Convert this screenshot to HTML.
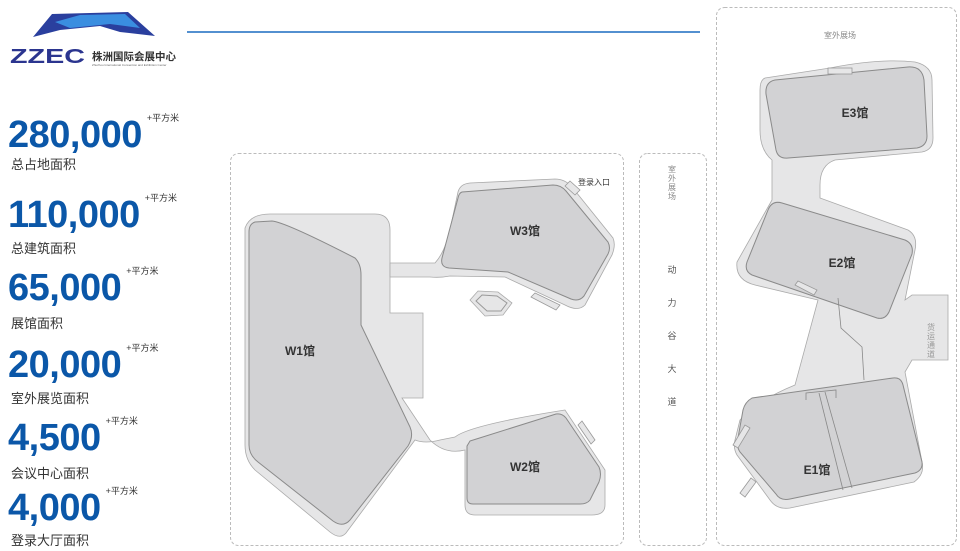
<!DOCTYPE html>
<html><head><meta charset="utf-8"><style>
body{margin:0;width:960px;height:551px;background:#fff;overflow:hidden;position:relative;font-family:"Liberation Sans","Noto Sans CJK SC",sans-serif}
.n{position:absolute;left:8px;color:#0b57a8;font-weight:bold;font-size:38px;letter-spacing:-0.5px;line-height:1}
.n sup{font-size:9px;color:#333;font-weight:normal;letter-spacing:0;vertical-align:top;position:relative;top:-2px;margin-left:5px}
.l{position:absolute;left:11px;font-size:13px;color:#333}
</style></head><body>
<svg width="960" height="551" style="position:absolute;left:0;top:0" font-family="Liberation Sans, Noto Sans CJK SC, sans-serif">
<polygon points="33,37 52,14 128,12 155,36 120,32 100,26 60,30" fill="#2a3f9e"/>
<polygon points="55,22 80,15 125,14 140,28 110,24 70,28" fill="#3a8ee0"/>
<text x="10" y="63" font-size="20" font-weight="bold" fill="#2b358f" textLength="75" lengthAdjust="spacingAndGlyphs">ZZEC</text>
<text x="92" y="60" font-size="10.5" font-weight="bold" fill="#333">株洲国际会展中心</text>
<text x="92" y="66" font-size="3" fill="#666">Zhuzhou International Convention and Exhibition Center</text>
<line x1="187" y1="32" x2="700" y2="32" stroke="#1a6cc0" stroke-width="1.5"/>
<g fill="none" stroke="#bbb" stroke-dasharray="3,2">
<rect x="230.5" y="153.5" width="393" height="392" rx="8"/>
<rect x="639.5" y="153.5" width="67" height="392" rx="8"/>
<rect x="716.5" y="7.5" width="240" height="538" rx="8"/>
</g>
<g fill="#e6e6e7" stroke="#aaa" stroke-width="0.8">
<path d="M270,214 L375,214 Q390,214 390,230 L390,313 L423,313 L423,398 L402,398 L430,440 Q445,455 465,450 L465,505 Q465,515 475,515 L592,515 Q605,515 605,505 L605,470 L565,410 Q470,425 455,437 L440,440 Q425,444 415,440 L346,533 Q340,540 330,532 L255,470 Q245,460 245,445 L245,228 Q250,214 270,214 Z"/>
<path d="M390,263 L435,263 Q445,252 450,230 L458,192 Q460,184 470,183 L555,179 Q565,179 572,187 L613,238 Q616,245 612,255 L585,305 Q578,312 565,305 L505,277 L450,276 Q440,278 430,277 L390,277 Z"/>
<polygon points="470,300 478,291 498,292 512,303 503,315 485,316" />
</g>
<g fill="#d2d2d4" stroke="#8a8a8a" stroke-width="1">
<path d="M255,222 L272,221 Q285,222 355,258 Q361,264 361,275 L361,325 L410,427 Q414,436 408,446 L350,520 Q343,528 333,521 L258,462 Q249,455 249,445 L249,232 Q249,224 255,222 Z"/>
<path d="M462,192 L553,185 Q561,185 566,191 L608,242 Q611,248 608,254 L584,296 Q579,302 571,299 L508,272 L449,268 Q440,267 442,258 L458,198 Q459,193 462,192 Z"/>
<path d="M470,441 L556,414 Q562,413 566,418 L599,467 Q602,474 599,482 L590,500 Q587,504 580,504 L473,504 Q467,504 467,498 L467,446 Z"/>
<polygon points="476,301 482,295 497,296 507,303 501,311 487,311" fill="#e6e6e7" stroke="#999"/>
</g>
<g fill="#e6e6e7" stroke="#999" stroke-width="0.8">
<polygon points="565,186 570,181 580,190 575,195"/>
<polygon points="531,297 535,293 560,305 556,310"/>
<polygon points="578,425 582,421 595,440 591,444"/>
</g>
<g fill="#e6e6e7" stroke="#aaa" stroke-width="0.8">
<path d="M765,78 L830,68 Q880,58 915,62 Q932,66 932,80 L933,138 Q933,150 922,152 L835,160 Q820,165 820,185 L820,198 L908,230 Q918,236 915,250 L905,300 L912,295 L948,295 L948,360 L912,360 L905,372 L922,462 Q925,474 914,482 L790,508 Q777,510 770,500 L737,455 Q733,448 735,440 L740,420 Q758,400 795,385 L818,300 L755,285 Q735,280 737,262 L772,200 L772,160 Q760,150 760,130 L760,90 Q760,80 765,78 Z"/>
</g>
<g fill="#d2d2d4" stroke="#8a8a8a" stroke-width="1">
<path d="M775,80 L908,67 Q922,66 924,80 L927,136 Q927,146 917,148 L788,158 Q778,159 776,150 L766,94 Q765,82 775,80 Z"/>
<path d="M782,203 L905,240 Q914,244 912,254 L889,312 Q885,320 877,318 L752,275 Q744,271 747,262 L768,210 Q772,200 782,203 Z"/>
<path d="M752,398 L893,378 Q901,377 903,385 L922,462 Q923,470 915,473 L790,499 Q780,501 776,494 L740,452 Q736,446 738,438 L743,410 Q745,402 752,398 Z"/>
</g>
<g fill="none" stroke="#888" stroke-width="0.8">
<polyline points="838,298 841,328 862,347 864,380"/>
<line x1="819" y1="393" x2="843" y2="490"/><line x1="825" y1="392" x2="852" y2="488"/>
<polyline points="806,400 806,393 836,390 836,398"/>
</g>
<g fill="#e6e6e7" stroke="#999" stroke-width="0.8">
<rect x="828" y="68" width="24" height="6"/>
<polygon points="795,285 798,281 817,290 814,295"/>
<polygon points="733,445 745,425 750,428 738,448"/>
<polygon points="740,493 751,478 756,482 745,497"/>
</g>
<g font-size="12" font-weight="bold" fill="#333" text-anchor="middle">
<text x="300" y="355">W1馆</text><text x="525" y="235">W3馆</text><text x="525" y="471">W2馆</text>
<text x="855" y="117">E3馆</text><text x="842" y="267">E2馆</text><text x="817" y="474">E1馆</text>
</g>
<text x="578" y="185" font-size="8" fill="#333">登录入口</text>
<text x="840" y="38" font-size="8" fill="#888" text-anchor="middle">室外展场</text>
<g font-size="8" fill="#888" text-anchor="middle"><text x="672" y="172">室</text><text x="672" y="181">外</text><text x="672" y="190">展</text><text x="672" y="199">场</text></g>
<g font-size="9" fill="#555" text-anchor="middle"><text x="672" y="273">动</text><text x="672" y="306">力</text><text x="672" y="339">谷</text><text x="672" y="372">大</text><text x="672" y="405">道</text></g>
<g font-size="8" fill="#999" text-anchor="middle"><text x="931" y="330">货</text><text x="931" y="339">运</text><text x="931" y="348">通</text><text x="931" y="357">道</text></g>
</svg>
<div class="n" style="top:116px">280,000<sup>+平方米</sup></div><div class="l" style="top:154px">总占地面积</div>
<div class="n" style="top:196px">110,000<sup>+平方米</sup></div><div class="l" style="top:238px">总建筑面积</div>
<div class="n" style="top:269px">65,000<sup>+平方米</sup></div><div class="l" style="top:313px">展馆面积</div>
<div class="n" style="top:346px">20,000<sup>+平方米</sup></div><div class="l" style="top:388px">室外展览面积</div>
<div class="n" style="top:419px">4,500<sup>+平方米</sup></div><div class="l" style="top:463px">会议中心面积</div>
<div class="n" style="top:489px">4,000<sup>+平方米</sup></div><div class="l" style="top:530px">登录大厅面积</div>
</body></html>
